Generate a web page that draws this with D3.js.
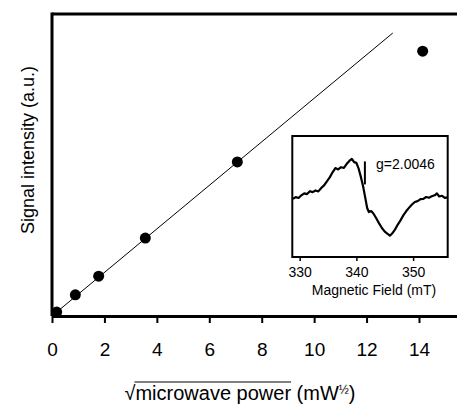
<!DOCTYPE html>
<html>
<head>
<meta charset="utf-8">
<script src="https://cdn.jsdelivr.net/npm/d3@7"></script>
<style>
  body { margin: 0; background: #fff; }
  svg { display: block; font-family: "Liberation Sans", Arial, Helvetica, sans-serif; }
</style>
</head>
<body>
<svg width="457" height="406"></svg>
<script>
const svg = d3.select('svg');

// main plot: sqrt(power) vs signal
const sqrtPower = [0.18, 0.89, 1.78, 3.56, 7.07, 14.14];
const signal = [1.3, 7.0, 13.2, 25.8, 51.0, 87.7];
const fitLine = [[0.18, 1.3], [13.0, 93.7]];
const xTicks = [0, 2, 4, 6, 8, 10, 12, 14];

// inset: EPR spectrum
const fieldMT = [328.8, 329.3, 329.8, 330.3, 330.8, 331.3, 331.8, 332.3, 332.8, 333.3,
  333.8, 334.3, 334.8, 335.3, 335.8, 336.3, 336.8, 337.3, 337.8, 338.3,
  338.8, 339.2, 339.6, 340.0, 340.4, 340.8, 341.2, 341.6, 341.9, 342.2,
  342.6, 343.0, 343.5, 344.0, 344.5, 345.0, 345.5, 345.9, 346.3, 346.8,
  347.3, 347.8, 348.3, 348.8, 349.3, 349.8, 350.3, 350.8, 351.3, 351.8,
  352.3, 352.8, 353.3, 353.8, 354.2, 354.6, 355.1, 355.6, 356.0];
const eprSignal = [48.0, 49.5, 48.8, 51.0, 52.6, 52.0, 54.4, 53.6, 55.0, 54.2,
  57.0, 59.2, 62.5, 65.8, 70.0, 73.5, 72.4, 74.2, 73.6, 77.0,
  79.6, 81.0, 78.4, 77.8, 73.0, 66.0, 58.0, 48.0, 40.5, 37.2,
  38.0, 36.0, 32.0, 27.8, 24.0, 21.0, 19.2, 17.6, 19.4, 22.6,
  26.8, 30.5, 34.6, 38.0, 40.8, 43.4, 45.5, 46.2, 47.8, 48.0,
  49.6, 49.0, 50.2, 51.0, 52.6, 50.0, 50.6, 48.8, 49.3];
const insetTicks = [330, 340, 350];
const gMarker = { field: 341.5, from: 60, to: 79 };
const gLabel = 'g=2.0046';

const margin = { left: 52, top: 14, bottom: 316 };

const x = d3.scaleLinear().domain([0, 15.45]).range([margin.left, 457]);
const y = d3.scaleLinear().domain([0, 100]).range([margin.bottom, margin.top]);

// frame: top border + left axis
svg.append('line')
  .attr('x1', margin.left).attr('x2', 457)
  .attr('y1', margin.top).attr('y2', margin.top)
  .attr('stroke', '#000').attr('stroke-width', 3);
svg.append('line')
  .attr('x1', margin.left).attr('x2', margin.left)
  .attr('y1', margin.top - 1.5).attr('y2', margin.bottom)
  .attr('stroke', '#000').attr('stroke-width', 3);

const xAxisG = svg.append('g')
  .attr('transform', `translate(0,${margin.bottom})`)
  .call(d3.axisBottom(x).tickValues(xTicks).tickSize(7).tickSizeOuter(0).tickPadding(20));
xAxisG.select('.domain').attr('stroke-width', 3);
xAxisG.selectAll('.tick line').attr('stroke-width', 2);
xAxisG.selectAll('.tick text')
  .attr('font-size', 19)
  .attr('font-family', '"Liberation Sans", Arial, sans-serif');

// fit line
svg.append('path')
  .datum(fitLine)
  .attr('d', d3.line().x(d => x(d[0])).y(d => y(d[1])))
  .attr('fill', 'none')
  .attr('stroke', '#000')
  .attr('stroke-width', 1);

svg.selectAll('.dot').data(sqrtPower)
  .enter().append('circle')
    .attr('class', 'dot')
    .attr('cx', d => x(d))
    .attr('cy', (d, i) => y(signal[i]))
    .attr('r', 5.5)
    .attr('fill', '#000');

// axis labels
svg.append('text')
  .attr('transform', 'translate(34,150) rotate(-90)')
  .attr('text-anchor', 'middle')
  .attr('font-size', 18)
  .text('Signal intensity (a.u.)');

const xl = svg.append('text')
  .attr('x', 240).attr('y', 400)
  .attr('text-anchor', 'middle')
  .attr('font-size', 20);
xl.append('tspan').text('\u221A');
xl.append('tspan').text('microwave power');
xl.append('tspan').text(' (mW');
xl.append('tspan').attr('font-size', 12).attr('dy', -6).text('\u00BD');
xl.append('tspan').attr('dy', 6).text(')');
// overline over the radicand
const xn = xl.node();
const ox1 = xn.getStartPositionOfChar(1).x;
const ox2 = xn.getEndPositionOfChar(15).x;
svg.append('line')
  .attr('x1', ox1 - 1).attr('x2', ox2)
  .attr('y1', 382).attr('y2', 382)
  .attr('stroke', '#000').attr('stroke-width', 1);

// inset
const ix = d3.scaleLinear().domain([328.7, 356.1]).range([292.3, 447.7]);
const iy = d3.scaleLinear().domain([0, 100]).range([257, 136]);

const inset = svg.append('g').attr('class', 'inset');
inset.append('rect')
  .attr('x', 292.3).attr('y', 136)
  .attr('width', 447.7 - 292.3).attr('height', 257 - 136)
  .attr('fill', '#fff')
  .attr('stroke', '#000').attr('stroke-width', 2);

const insetAxis = inset.append('g')
  .attr('transform', 'translate(0,257)')
  .call(d3.axisBottom(ix).tickValues(insetTicks).tickSize(4).tickSizeOuter(0).tickPadding(6));
insetAxis.select('.domain').remove();
insetAxis.selectAll('.tick line').attr('stroke-width', 1.5);
insetAxis.selectAll('.tick text')
  .attr('font-size', 14)
  .attr('font-family', '"Liberation Sans", Arial, sans-serif');

inset.append('path')
  .datum(fieldMT)
  .attr('d', d3.line().x(d => ix(d)).y((d, i) => iy(eprSignal[i])))
  .attr('fill', 'none')
  .attr('stroke', '#000')
  .attr('stroke-width', 2.2)
  .attr('stroke-linejoin', 'round');

inset.append('line')
  .attr('x1', ix(gMarker.field)).attr('x2', ix(gMarker.field))
  .attr('y1', iy(gMarker.from)).attr('y2', iy(gMarker.to))
  .attr('stroke', '#000').attr('stroke-width', 2);

inset.append('text')
  .attr('x', 376).attr('y', 169)
  .attr('font-size', 14)
  .text(gLabel);

inset.append('text')
  .attr('x', 374).attr('y', 295)
  .attr('text-anchor', 'middle')
  .attr('font-size', 14)
  .text('Magnetic Field (mT)');
</script>
</body>
</html>
